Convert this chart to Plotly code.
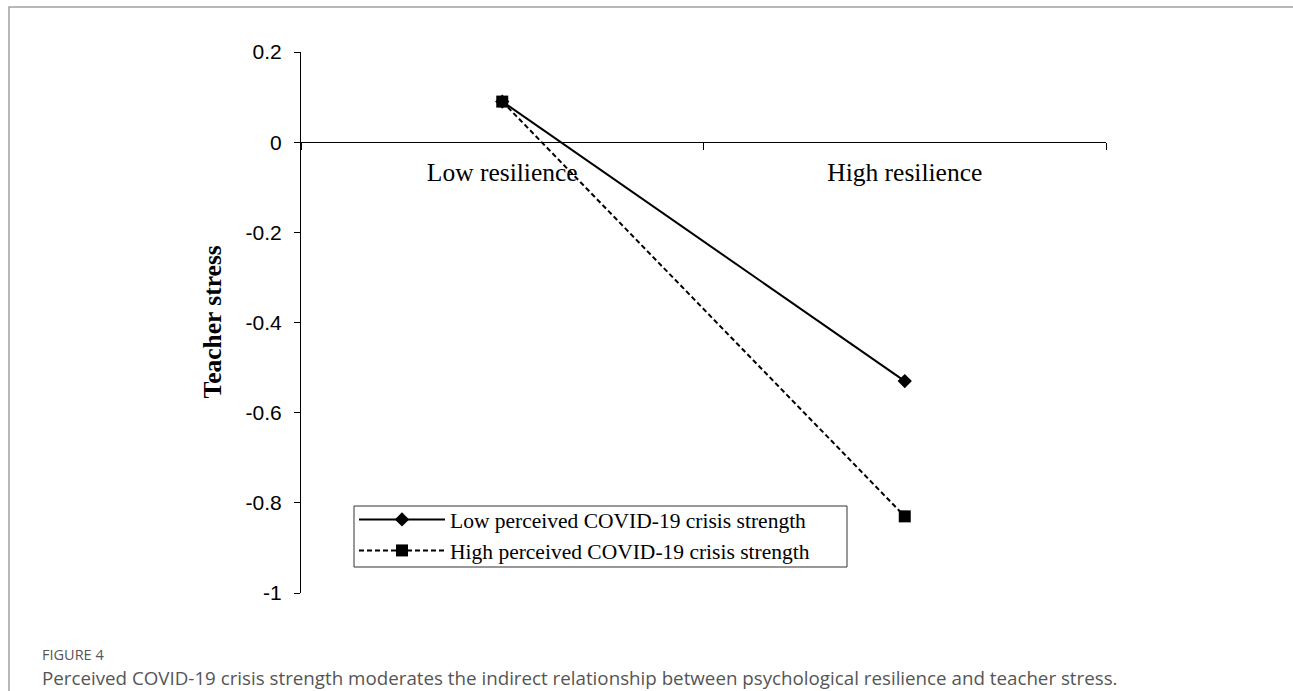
import plotly.graph_objects as go

categories = ["Low resilience", "High resilience"]
low_crisis = [0.09, -0.53]
high_crisis = [0.09, -0.83]
series_names = ["Low perceived COVID-19 crisis strength", "High perceived COVID-19 crisis strength"]
y_tickvals = [-1, -0.8, -0.6, -0.4, -0.2, 0, 0.2]
y_ticktext = ["-1", "-0.8", "-0.6", "-0.4", "-0.2", "0", "0.2"]
y_title = "Teacher stress"
fig_label = "FIGURE 4"
caption = ("Perceived COVID-19 crisis strength moderates the indirect relationship "
           "between psychological resilience and teacher stress.")

W, H = 1293, 691
L, R, T, B = 301, 187, 52, 98
pw, ph = W - L - R, H - T - B
ymin, ymax = -1, 0.2

serif = "Liberation Serif, Times New Roman, serif"
sans = "Liberation Sans, Arial, sans-serif"

fig = go.Figure()
fig.add_trace(go.Scatter(
    x=categories, y=low_crisis, name=series_names[0], mode="lines+markers",
    line=dict(color="black", width=2),
    marker=dict(symbol="diamond", size=11, color="black"),
))
fig.add_trace(go.Scatter(
    x=categories, y=high_crisis, name=series_names[1], mode="lines+markers",
    line=dict(color="black", width=2, dash="5px,3px"),
    marker=dict(symbol="square", size=12, color="black"),
))

def px_x(p):
    return (p - L) / pw

def px_y(p):
    return (H - B - p) / ph

fig.update_layout(
    width=W, height=H, autosize=False,
    margin=dict(l=L, r=R, t=T, b=B, pad=0),
    paper_bgcolor="white", plot_bgcolor="white",
    showlegend=True,
    legend=dict(
        x=px_x(354), y=px_y(499), xanchor="left", yanchor="top",
        bgcolor="rgba(0,0,0,0)", borderwidth=0,
        font=dict(family=serif, size=21.5, color="black"),
        tracegroupgap=0, itemwidth=86,
    ),
    xaxis=dict(
        type="category", range=[-0.5, 1.5],
        anchor="free", position=(0 - ymin) / (ymax - ymin),
        showline=True, linecolor="black", linewidth=1,
        ticks="outside", ticklen=7, tickcolor="black", tickson="boundaries",
        tickfont=dict(family=serif, size=25.5, color="black"),
        ticklabelstandoff=7,
        showgrid=False, zeroline=False,
    ),
    yaxis=dict(
        range=[ymin, ymax], tickvals=y_tickvals, ticktext=y_ticktext,
        showline=True, linecolor="black", linewidth=1,
        ticks="outside", ticklen=6, tickcolor="black",
        tickfont=dict(family=sans, size=21, color="black"),
        ticklabelstandoff=8,
        showgrid=False, zeroline=False,
    ),
    shapes=[
        dict(
            type="rect", xref="paper", yref="paper",
            x0=px_x(9), x1=px_x(W + 20), y0=px_y(H + 20), y1=px_y(7),
            line=dict(color="#a0a0a0", width=1.5), fillcolor="rgba(0,0,0,0)",
            layer="below",
        ),
        dict(  # legend frame
            type="rect", xref="paper", yref="paper",
            x0=px_x(354), x1=px_x(847), y0=px_y(567), y1=px_y(506),
            line=dict(color="#333333", width=1), fillcolor="white",
            layer="below",
        ),
    ],
    annotations=[
        dict(text="<b>" + y_title + "</b>", xref="paper", yref="paper",
             x=px_x(212), y=0.5, textangle=-90, showarrow=False,
             font=dict(family=serif, size=25.5, color="black"),
             xanchor="center", yanchor="middle"),
        dict(text=fig_label, xref="paper", yref="paper",
             x=px_x(40), y=px_y(654), showarrow=False,
             font=dict(family="Open Sans, sans-serif", size=14.5, color="#555555"),
             xanchor="left", yanchor="middle"),
        dict(text=caption, xref="paper", yref="paper",
             x=px_x(40), y=px_y(677), showarrow=False,
             font=dict(family="Open Sans, sans-serif", size=18.75, color="#555555"),
             xanchor="left", yanchor="middle"),
    ],
)

fig.write_html(
    "out.html",
    config={"displayModeBar": False},
    post_script="document.body.style.margin='0';document.body.style.overflow='hidden';",
)
